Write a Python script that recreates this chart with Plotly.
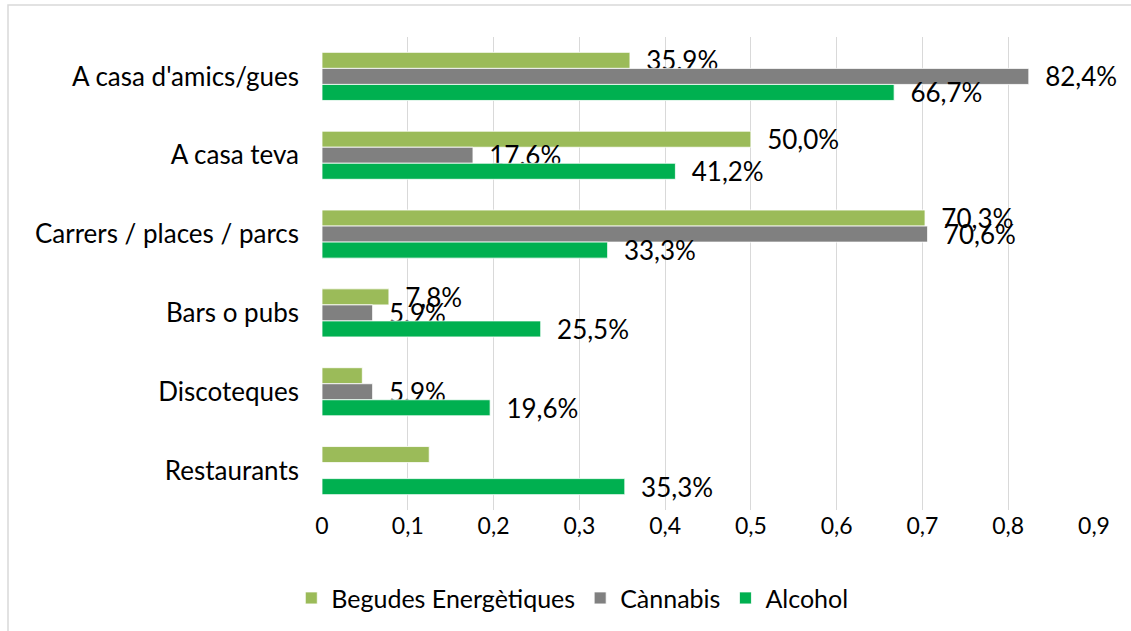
import plotly.graph_objects as go

categories = ["A casa d'amics/gues", "A casa teva", "Carrers / places / parcs",
              "Bars o pubs", "Discoteques", "Restaurants"]
begudes = [0.359, 0.500, 0.703, 0.078, 0.047, 0.125]
cannabis = [0.824, 0.176, 0.706, 0.059, 0.059, 0.0]
alcohol = [0.667, 0.412, 0.333, 0.255, 0.196, 0.353]
begudes_show = [True, True, True, True, False, False]
cannabis_show = [True, True, True, True, True, False]
alcohol_show = [True, True, True, True, True, True]
x_ticks = [0, 0.1, 0.2, 0.3, 0.4, 0.5, 0.6, 0.7, 0.8, 0.9]
x_tick_labels = ["0", "0,1", "0,2", "0,3", "0,4", "0,5", "0,6", "0,7", "0,8", "0,9"]

PAD = "\u00a0\u00a0"


def labels(vals, show):
    return [(PAD + f"{v*100:.1f}%".replace(".", ",") if s else "") for v, s in zip(vals, show)]


FONT = "Lato"
series = [
    ("Begudes Energètiques", begudes, begudes_show, "#9BBB59"),
    ("Cànnabis", cannabis, cannabis_show, "#808080"),
    ("Alcohol", alcohol, alcohol_show, "#00B050"),
]

fig = go.Figure()
for name, vals, show, color in series:
    fig.add_trace(go.Bar(
        y=categories, x=vals, name=name, orientation="h",
        marker=dict(color=color, line=dict(color="white", width=0.8)),
        text=labels(vals, show), textposition="outside",
        textfont=dict(family=FONT, size=26, color="#000000"),
        constraintext="none", cliponaxis=False,
    ))

W, H = 1131, 631
L, R, T, B = 322, 37, 37, 121
pw, ph = W - L - R, H - T - B

fig.update_layout(
    width=W, height=H,
    margin=dict(l=L, r=R, t=T, b=B),
    barmode="group", bargap=0.39, bargroupgap=0,
    plot_bgcolor="white", paper_bgcolor="white",
    font=dict(family=FONT, color="#000000"),
    legend=dict(orientation="h", x=0.506, xref="container", xanchor="center",
                y=0.052, yref="container", yanchor="middle",
                font=dict(family=FONT, size=25), traceorder="normal",
                itemwidth=30),
    xaxis=dict(range=[0, 0.9], tickvals=x_ticks, ticktext=x_tick_labels,
               showgrid=True, gridcolor="#D9D9D9", gridwidth=1.3,
               zeroline=False, showline=False,
               tickfont=dict(family=FONT, size=23), ticks=""),
    yaxis=dict(autorange="reversed", showgrid=False, zeroline=False,
               showline=False, ticks="", ticklabelstandoff=22,
               tickfont=dict(family=FONT, size=26)),
    shapes=[dict(type="rect", xref="paper", yref="paper",
                 x0=(8 - L) / pw, x1=(W + 5 - L) / pw,
                 y0=(H - B - (H + 5)) / ph, y1=(H - B - 5) / ph,
                 line=dict(color="#D9D9D9", width=1.5), layer="below")],
)

fig.write_html("out.html", config={"displayModeBar": False},
               post_script="document.body.style.margin='0';")
